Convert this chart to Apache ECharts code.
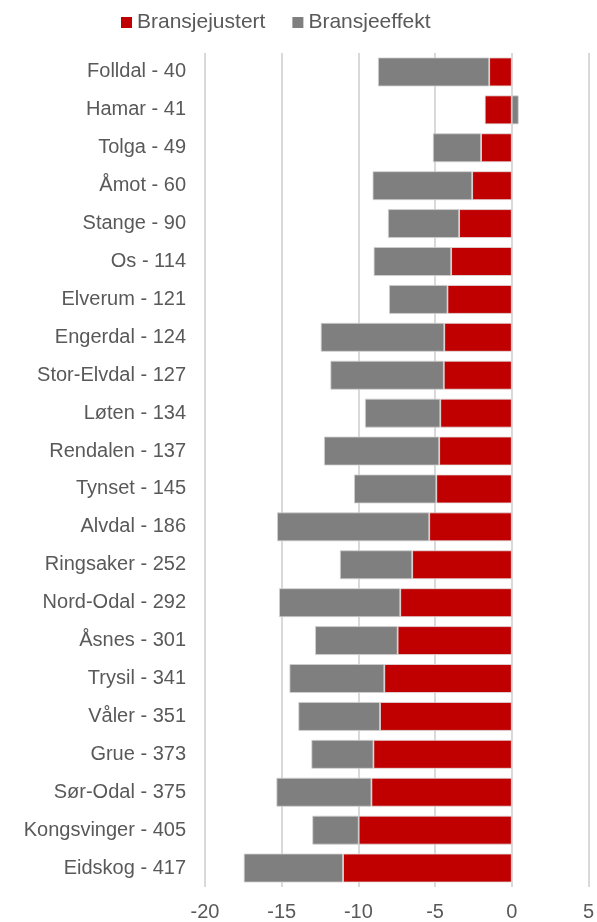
<!DOCTYPE html>
<html><head><meta charset="utf-8">
<script src="https://cdn.jsdelivr.net/npm/echarts@6/dist/echarts.min.js"></script>
<style>html,body{margin:0;padding:0;background:#fff}#c{width:597px;height:922px}</style>
</head><body><div id="c"></div>
<script>
const categories = ["Folldal - 40","Hamar - 41","Tolga - 49","Åmot - 60","Stange - 90","Os - 114","Elverum - 121","Engerdal - 124","Stor-Elvdal - 127","Løten - 134","Rendalen - 137","Tynset - 145","Alvdal - 186","Ringsaker - 252","Nord-Odal - 292","Åsnes - 301","Trysil - 341","Våler - 351","Grue - 373","Sør-Odal - 375","Kongsvinger - 405","Eidskog - 417"];
const bransjejustert = [-1.47,-1.76,-2.0,-2.58,-3.43,-3.95,-4.19,-4.40,-4.43,-4.66,-4.73,-4.92,-5.38,-6.49,-7.27,-7.44,-8.31,-8.59,-9.02,-9.15,-9.98,-11.0];
const bransjeeffekt = [-7.25,0.45,-3.14,-6.49,-4.64,-5.05,-3.81,-8.05,-7.39,-4.91,-7.51,-5.36,-9.92,-4.71,-7.90,-5.38,-6.18,-5.32,-4.04,-6.19,-3.02,-6.47];
const xTicks = [-20,-15,-10,-5,0,5];

const chart = echarts.init(document.getElementById('c'), null, {renderer:'canvas'});
const font = 'Liberation Sans, Arial, sans-serif';
chart.setOption({
  animation:false,
  textStyle:{fontFamily:font},
  legend:{
    top:12, left:121, itemWidth:11, itemHeight:11, itemGap:27, padding:0,
    icon:'rect',
    itemStyle:{borderWidth:0},
    textStyle:{fontSize:21, color:'#595959', fontFamily:font},
    data:['Bransjejustert','Bransjeeffekt']
  },
  grid:{left:205, right:7, top:53, bottom:31, containLabel:false},
  xAxis:{
    type:'value', min:xTicks[0], max:xTicks[xTicks.length-1], interval:5,
    axisLine:{show:false}, axisTick:{show:false},
    splitLine:{show:true, lineStyle:{color:'#d9d9d9', width:2}},
    axisLabel:{fontSize:20, color:'#595959', margin:15, fontFamily:font}
  },
  yAxis:{
    type:'category', data:categories, inverse:true,
    axisLine:{show:false, onZero:false}, axisTick:{show:false},
    axisLabel:{fontSize:20, color:'#595959', margin:19, fontFamily:font}
  },
  series:[
    {name:'Bransjejustert', type:'bar', stack:'s', data:bransjejustert, barCategoryGap:'24%',
     itemStyle:{color:'#c00000', borderColor:'#e0e0e0', borderWidth:0.8}},
    {name:'Bransjeeffekt', type:'bar', stack:'s', data:bransjeeffekt, barCategoryGap:'24%',
     itemStyle:{color:'#7f7f7f', borderColor:'#d0d0d0', borderWidth:0.8}}
  ]
});
</script></body></html>
